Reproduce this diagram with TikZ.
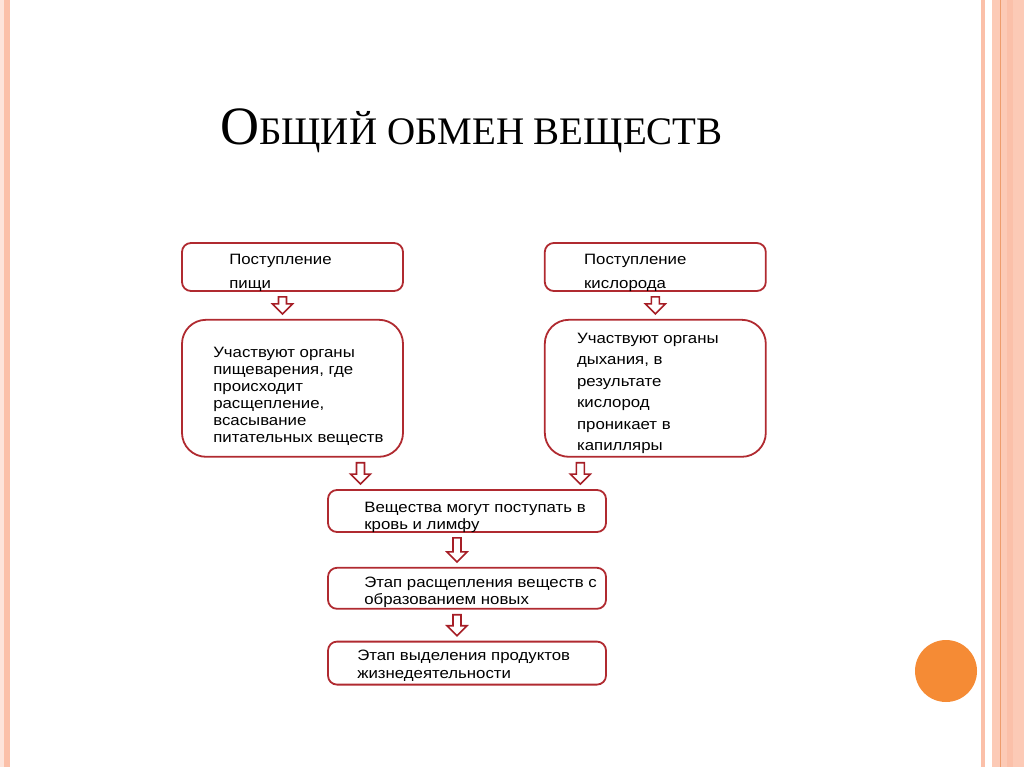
\documentclass[tikz,border=0pt]{standalone}
\usepackage{fontspec}
\setmainfont{Liberation Serif}
\newfontfamily\bodyfont[FakeStretch=1.12]{Liberation Sans}
\usetikzlibrary{positioning,calc}
\definecolor{BoxRed}{HTML}{B02A30}
\definecolor{ArrowRed}{HTML}{A61E26}
\definecolor{Stripe}{HTML}{FBC0A9}
\definecolor{StripeSoft}{HTML}{FCCAB6}
\definecolor{StripeLine}{HTML}{EE9C6C}
\definecolor{Dot}{HTML}{F58B35}

\begin{document}
\begin{tikzpicture}[x=1pt,y=-1pt,
    box/.style={rectangle,rounded corners=9pt,draw=BoxRed,line width=1.8pt,inner sep=0pt},
    bigbox/.style={box,rounded corners=24pt},
    txt/.style={anchor=north west,inner sep=0pt,align=left,font=\bodyfont\fontsize{15}{17}\selectfont},
    hollow/.style={draw=ArrowRed,line width=1.6pt,fill=white,line join=miter,
      to path={let \p1=(\tikztostart), \p2=(\tikztotarget) in
        (\x1-4pt,\y1-5pt) -- (\x1+4pt,\y1-5pt) -- (\x1+4pt,\y2+15pt) -- (\x1+10pt,\y2+15pt)
        -- (\x1,\y2+5pt) -- (\x1-10pt,\y2+15pt) -- (\x1-4pt,\y2+15pt) -- cycle}}
]
\useasboundingbox (0,0) rectangle (1024,767);
% slide decoration
\fill[StripeSoft!50] (0,0) rectangle (4,767);
\fill[Stripe] (4,0) rectangle (10,767);
\fill[Stripe] (981,0) rectangle (985,767);
\fill[StripeSoft] (992,0) rectangle (1024,767);
\fill[Stripe] (1007,0) rectangle (1013,767);
\fill[StripeLine] (999.5,0) rectangle (1001,767);
\fill[Dot] (946,671) circle [radius=31];

% title
\node[anchor=base west,inner sep=0pt] (title) at (220,145)
  {\fontsize{54}{60}\selectfont О\fontsize{39}{44}\selectfont БЩИЙ ОБМЕН ВЕЩЕСТВ};

% boxes
\node[box,minimum width=221pt,minimum height=48pt] (food) at (292.5,267) {};
\node[box,minimum width=221pt,minimum height=48pt,right=140pt of food] (oxygen) {};
\node[bigbox,minimum width=221pt,minimum height=137pt,below=27pt of food] (digest) {};
\node[bigbox,minimum width=221pt,minimum height=137pt,below=27pt of oxygen] (breath) {};
\node[box,minimum width=278pt,minimum height=42pt] (blood) at (467,511) {};
\node[box,minimum width=278pt,minimum height=41pt,below=34pt of blood] (split) {};
\node[box,minimum width=278pt,minimum height=43pt,below=31pt of split] (waste) {};

% texts
\node[txt,font=\bodyfont\fontsize{15}{24}\selectfont] (foodtxt) at ([shift={(48pt,-12pt)}]food.north west) {Поступление\\пищи};
\node[txt,font=\bodyfont\fontsize{15}{24}\selectfont] (oxygentxt) at ([shift={(40pt,-12pt)}]oxygen.north west) {Поступление\\кислорода};
\node[txt] (digesttxt) at ([shift={(32pt,-28pt)}]digest.north west)
  {Участвуют органы\\пищеварения, где\\происходит\\расщепление,\\всасывание\\питательных веществ};
\node[txt,font=\bodyfont\fontsize{15}{21.5}\selectfont] (breathtxt) at ([shift={(33pt,-14pt)}]breath.north west)
  {Участвуют органы\\дыхания, в\\результате\\кислород\\проникает в\\капилляры};
\node[txt] (bloodtxt) at ([shift={(37pt,-13pt)}]blood.north west) {Вещества могут поступать в\\кровь и лимфу};
\node[txt] (splittxt) at ([shift={(37pt,-10pt)}]split.north west) {Этап расщепления веществ с\\образованием новых};
\node[txt,font=\bodyfont\fontsize{15}{18}\selectfont] (wastetxt) at ([shift={(30pt,-9pt)}]waste.north west) {Этап выделения продуктов\\жизнедеятельности};

% arrows
\coordinate (a1) at ([xshift=-10pt]food.south);
\coordinate (a2) at (oxygen.south);
\coordinate (a3) at ([xshift=68pt]digest.south);
\coordinate (a4) at ([xshift=-75pt]breath.south);
\coordinate (a5) at ([xshift=-10pt]blood.south);
\coordinate (a6) at ([xshift=-10pt]split.south);
\draw[hollow] (a1) to (a1 |- digest.north);
\draw[hollow] (a2) to (a2 |- breath.north);
\draw[hollow] (a3) to (a3 |- blood.north);
\draw[hollow] (a4) to (a4 |- blood.north);
\draw[hollow] (a5) to (a5 |- split.north);
\draw[hollow] (a6) to (a6 |- waste.north);
\end{tikzpicture}
\end{document}
